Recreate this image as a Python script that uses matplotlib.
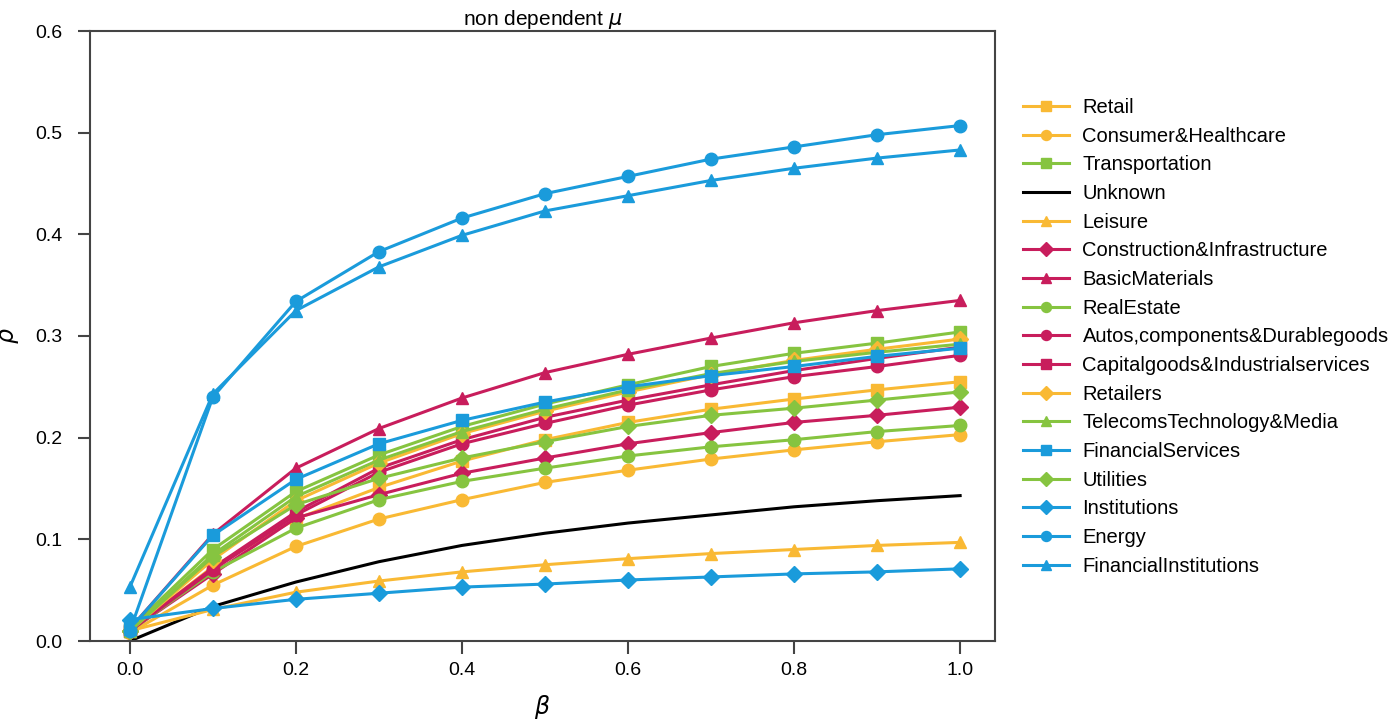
import numpy as np
import matplotlib
matplotlib.use("Agg")
import matplotlib.pyplot as plt

plt.rcParams['font.family'] = ['Liberation Sans', 'DejaVu Sans']
plt.rcParams['mathtext.fontset'] = 'dejavusans'

# beta grid
beta = [0.0, 0.1, 0.2, 0.3, 0.4, 0.5, 0.6, 0.7, 0.8, 0.9, 1.0]

# rho values
retail = [0.010, 0.073, 0.120, 0.151, 0.177, 0.198, 0.215, 0.228, 0.238, 0.247, 0.255]
consumer = [0.008, 0.055, 0.093, 0.120, 0.139, 0.156, 0.168, 0.179, 0.188, 0.196, 0.203]
transportation = [0.012, 0.090, 0.147, 0.183, 0.211, 0.233, 0.252, 0.270, 0.283, 0.293, 0.304]
unknown = [0.0, 0.034, 0.058, 0.078, 0.094, 0.106, 0.116, 0.124, 0.132, 0.138, 0.143]
leisure = [0.010, 0.031, 0.048, 0.059, 0.068, 0.075, 0.081, 0.086, 0.090, 0.094, 0.097]
construction = [0.010, 0.066, 0.121, 0.144, 0.165, 0.180, 0.194, 0.205, 0.215, 0.222, 0.230]
basic = [0.012, 0.105, 0.170, 0.209, 0.239, 0.264, 0.282, 0.298, 0.313, 0.325, 0.335]
realestate = [0.010, 0.068, 0.111, 0.139, 0.157, 0.170, 0.182, 0.191, 0.198, 0.206, 0.212]
autos = [0.010, 0.070, 0.124, 0.166, 0.194, 0.214, 0.232, 0.247, 0.260, 0.270, 0.281]
capital = [0.010, 0.072, 0.127, 0.170, 0.198, 0.220, 0.237, 0.252, 0.266, 0.278, 0.289]
retailers = [0.010, 0.080, 0.138, 0.175, 0.204, 0.226, 0.245, 0.262, 0.276, 0.287, 0.297]
telecoms = [0.010, 0.085, 0.142, 0.178, 0.206, 0.228, 0.247, 0.263, 0.275, 0.284, 0.292]
finservices = [0.012, 0.104, 0.159, 0.194, 0.217, 0.235, 0.250, 0.261, 0.270, 0.280, 0.288]
utilities = [0.010, 0.083, 0.134, 0.160, 0.180, 0.196, 0.211, 0.222, 0.229, 0.237, 0.245]
institutions = [0.021, 0.032, 0.041, 0.047, 0.053, 0.056, 0.060, 0.063, 0.066, 0.068, 0.071]
energy = [0.010, 0.240, 0.334, 0.383, 0.416, 0.440, 0.457, 0.474, 0.486, 0.498, 0.507]
fininst = [0.053, 0.243, 0.325, 0.368, 0.399, 0.423, 0.438, 0.453, 0.465, 0.475, 0.483]

yellow = '#F9B934'
green = '#86C440'
magenta = '#C81D5C'
blue = '#1A9BDB'

series = [
    ('Retail', retail, yellow, 's'),
    ('Consumer&Healthcare', consumer, yellow, 'o'),
    ('Transportation', transportation, green, 's'),
    ('Unknown', unknown, 'black', None),
    ('Leisure', leisure, yellow, '^'),
    ('Construction&Infrastructure', construction, magenta, 'D'),
    ('BasicMaterials', basic, magenta, '^'),
    ('RealEstate', realestate, green, 'o'),
    ('Autos,components&Durablegoods', autos, magenta, 'o'),
    ('Capitalgoods&Industrialservices', capital, magenta, 's'),
    ('Retailers', retailers, yellow, 'D'),
    ('TelecomsTechnology&Media', telecoms, green, '^'),
    ('FinancialServices', finservices, blue, 's'),
    ('Utilities', utilities, green, 'D'),
    ('Institutions', institutions, blue, 'D'),
    ('Energy', energy, blue, 'o'),
    ('FinancialInstitutions', fininst, blue, '^'),
]

fig = plt.figure(figsize=(13.96, 7.2), dpi=100)
ax = fig.add_axes([90/1396, 1-641/720, (995-90)/1396, (641-31)/720])

sizes = {'s': 8.5, 'o': 9, '^': 9, 'D': 8.5}
for name, vals, col, mk in series:
    if mk is None:
        ax.plot(beta, vals, color=col, lw=2.2, label=name)
    else:
        ax.plot(beta, vals, color=col, lw=2.2, marker=mk, ms=sizes[mk], label=name)

ax.set_xlim(-0.048, 1.042)
ax.set_ylim(0, 0.6)
ax.set_xticks([0.0, 0.2, 0.4, 0.6, 0.8, 1.0])
ax.set_yticks([0.0, 0.1, 0.2, 0.3, 0.4, 0.5, 0.6])
ax.xaxis.set_major_formatter(matplotlib.ticker.FormatStrFormatter('%.1f'))
ax.yaxis.set_major_formatter(matplotlib.ticker.FormatStrFormatter('%.1f'))
ax.tick_params(direction='out', length=9, width=1.5, color='#444444', labelsize=14)
ax.tick_params(axis='x', pad=6)
ax.tick_params(axis='y', pad=11)
for sp in ax.spines.values():
    sp.set_color('#444444')
    sp.set_linewidth(1.5)

ax.set_xlabel(r'$\beta$', fontsize=17, labelpad=10)
ax.set_ylabel(r'$\rho$', fontsize=17, labelpad=10)
ax.set_title(r'non dependent $\mu$', fontsize=15, pad=3)

ax.legend(loc='upper left', bbox_to_anchor=(1013/1396, 1-88/720), bbox_transform=fig.transFigure,
          frameon=False, fontsize=14.5, labelspacing=0.48, handlelength=2.3,
          handletextpad=0.65, borderpad=0, markerscale=0.8)

fig.savefig('out.png', dpi=100)
